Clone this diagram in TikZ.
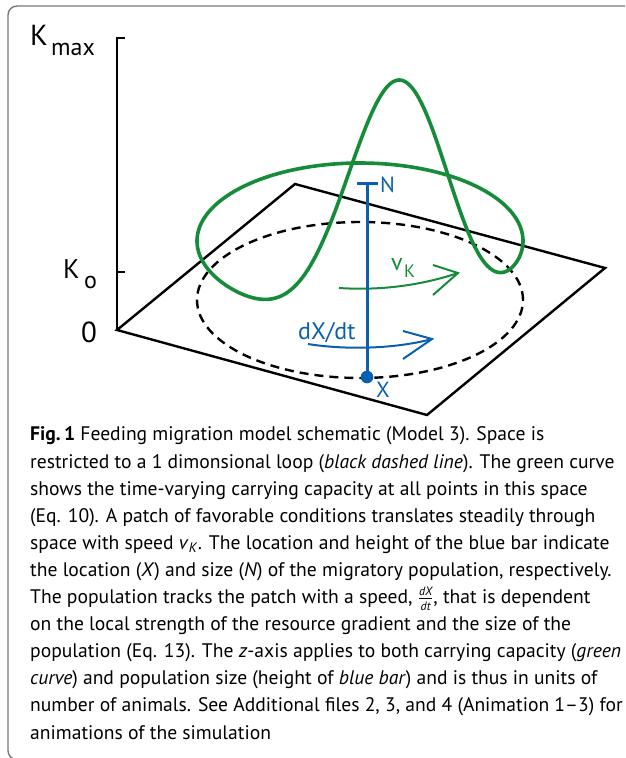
\documentclass[tikz,border=0pt]{standalone}
\usepackage{fontspec}
\setmainfont{PT Sans}
\definecolor{kgreen}{RGB}{22,140,58}
\definecolor{kblue}{RGB}{10,96,176}
\definecolor{framegray}{RGB}{120,120,120}
\begin{document}
\begin{tikzpicture}[x=1pt,y=-1pt,
  blackline/.style={line width=2.4pt, line join=miter},
  axisline/.style={line width=2.8pt, line join=miter},
  loopdash/.style={line width=2.4pt, dash pattern=on 9pt off 6pt},
  greencurve/.style={kgreen, line width=3.6pt, line join=round},
  greenarrow/.style={kgreen, line width=2pt, line join=miter},
  bluearrow/.style={kblue, line width=2pt, line join=miter},
  bluebar/.style={kblue, line width=3pt},
  lab/.style={inner sep=0pt, anchor=base west},
]
\useasboundingbox (0,0) rectangle (625,758);
\clip (0,0) rectangle (625,758);
\draw[framegray, line width=1.4pt, rounded corners=9pt] (8,6) rectangle (700,759.6);

% axis
\coordinate (O) at (117,330);
\coordinate (Top) at (117,38);
\coordinate (TopT) at (125,38);
\coordinate (Ko) at (117,272);
\coordinate (KoT) at (125,272);
\draw[axisline] (TopT) -- (Top) -- (O);
\draw[axisline] (Ko) -- (KoT);

% plane
\coordinate (B) at (295,184);
\coordinate (R) at (605,268);
\coordinate (F) at (427,415);
\draw[blackline] (O) -- (B) -- (R) -- (F) -- cycle;

% dashed loop
\coordinate (C) at (360,300);
\draw[loopdash] (C) ellipse [x radius=163pt, y radius=78pt];

% green carrying capacity
\draw[greencurve] plot[domain=-103.5:256.5, samples=300, smooth]
  ({360+163*cos(\x)}, {300+78*sin(\x)-59-236.8*exp(-min(((\x-76.5)/25)*((\x-76.5)/25),12))}) -- cycle;

% v_K arrow
\coordinate (g1) at (339,288);
\coordinate (g2) at (458,273);
\coordinate (ga) at (433,265);
\coordinate (gb) at (433,295);
\draw[greenarrow] (g1) .. controls (385,291) and (425,284) .. (g2);
\draw[greenarrow] (ga) -- (g2) -- (gb);
\node[lab, kgreen, font=\fontsize{24}{24}\selectfont] (vl) at (391,270) {v};
\node[lab, kgreen, font=\fontsize{18}{18}\selectfont] (vk) at (404,277) {K};

% dX/dt arrow
\coordinate (b1) at (308,344);
\coordinate (b2) at (432,339);
\coordinate (ba) at (403,331);
\coordinate (bb) at (403,359);
\draw[bluearrow] (b1) .. controls (345,350) and (395,349) .. (b2);
\draw[bluearrow] (ba) -- (b2) -- (bb);
\node[lab, kblue, font=\fontsize{24}{24}\selectfont] (dxdt) at (298,339) {dX/dt};

% blue bar
\coordinate (Xb) at (367,377);
\coordinate (Nb) at (367,183);
\coordinate (NbL) at (357,183);
\coordinate (NbR) at (378,183);
\draw[bluebar] (Nb) -- (Xb);
\draw[bluebar] (NbL) -- (NbR);
\fill[kblue] (Xb) circle (6.3pt);
\node[lab, kblue, font=\fontsize{22}{22}\selectfont] (Nl) at (380,192) {N};
\node[lab, kblue, font=\fontsize{22}{22}\selectfont] (Xl) at (376,397) {X};

% axis labels
\node[lab, font=\fontsize{29}{29}\selectfont] (K1) at (30,45) {K};
\node[lab, font=\fontsize{24}{24}\selectfont] (K1s) at (51,55) {max};
\node[lab, font=\fontsize{27}{27}\selectfont] (K2) at (63,278) {K};
\node[lab, font=\fontsize{24}{24}\selectfont] (K2s) at (84,288) {o};
\node[lab, font=\fontsize{29}{29}\selectfont] (Z) at (81,342) {0};

% caption (base anchor = last line)
\node[lab, align=left, font=\fontsize{19.6}{27.1}\selectfont] (cap) at (30,739) {%
\textbf{Fig.\,1} Feeding migration model schematic (Model 3). Space is\\
restricted to a 1 dimonsional loop (\textit{black dashed line}). The green curve\\
shows the time-varying carrying capacity at all points in this space\\
(Eq. 10). A patch of favorable conditions translates steadily through\\
space with speed \textit{v}\textsubscript{\textit{K}}. The location and height of the blue bar indicate\\
the location (\textit{X}) and size (\textit{N}) of the migratory population, respectively.\\
The population tracks the patch with a speed, $\frac{\mbox{\fontsize{12}{12}\selectfont\itshape dX}}{\mbox{\fontsize{12}{12}\selectfont\itshape dt}}$, that is dependent\\
on the local strength of the resource gradient and the size of the\\
population (Eq. 13). The \textit{z}-axis applies to both carrying capacity (\textit{green}\\
\textit{curve}) and population size (height of \textit{blue bar}) and is thus in units of\\
number of animals. See Additional files 2, 3, and 4 (Animation 1--3) for\\
animations of the simulation};
\end{tikzpicture}
\end{document}
